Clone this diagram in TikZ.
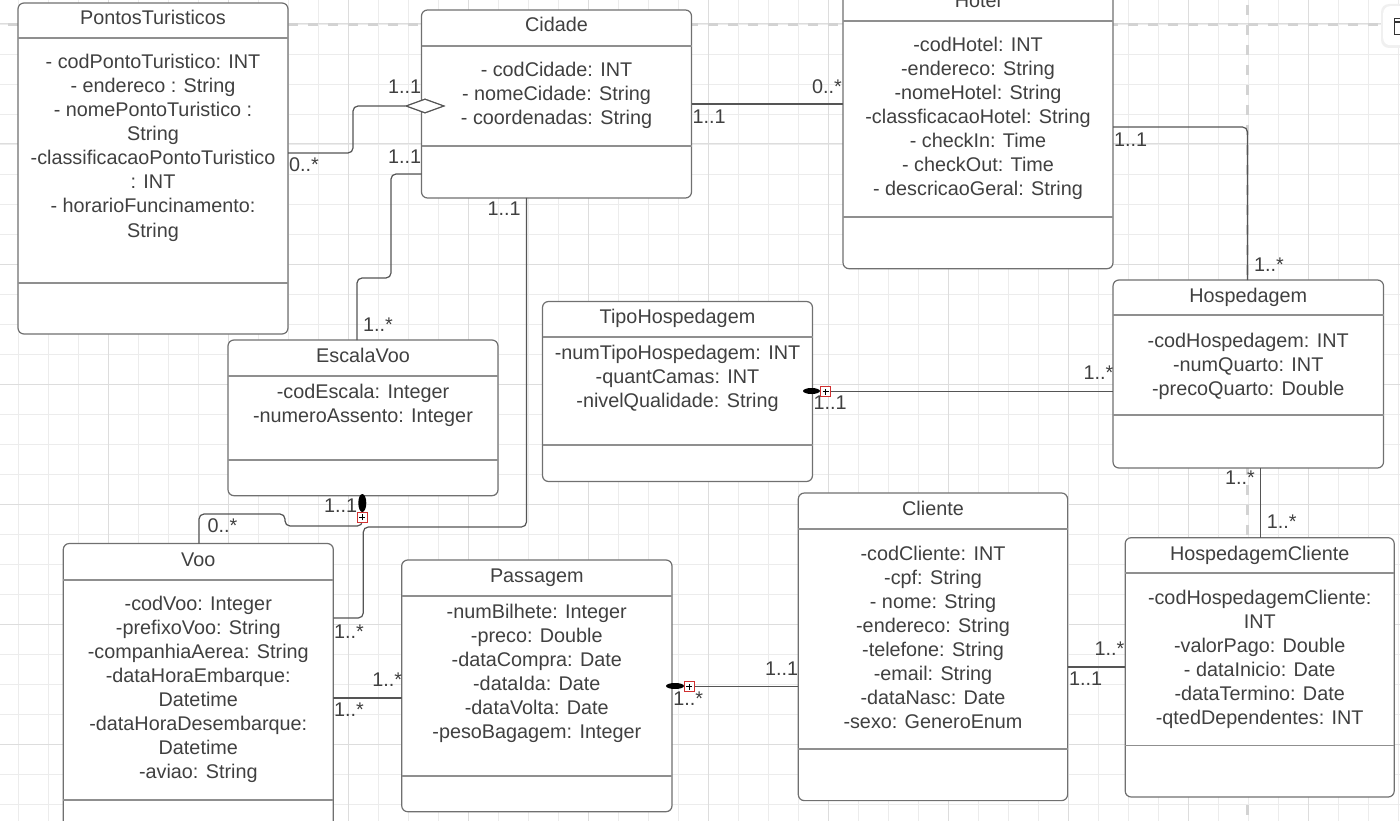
\documentclass[tikz,border=0pt]{standalone}
\usepackage{fontspec}
\setmainfont{Liberation Sans}
\usetikzlibrary{shapes.geometric}
\definecolor{boxc}{HTML}{707070}
\definecolor{sepc}{HTML}{8F8F8F}
\definecolor{txtc}{HTML}{404040}
\definecolor{connc}{HTML}{555555}
\definecolor{gridmin}{HTML}{ECECEC}
\definecolor{gridmaj}{HTML}{DDDDDD}
\definecolor{dashc}{HTML}{D3D3D3}
\definecolor{redc}{HTML}{D03030}
\tikzset{
  cls/.style={draw=boxc, fill=white, line width=1.2pt, rounded corners=6pt, inner sep=0pt, outer sep=0pt, anchor=north west},
  sepl/.style={draw=sepc, line width=1.8pt},
  txt/.style={text=txtc, font=\fontsize{19.8}{24}\selectfont, inner sep=0pt, outer sep=0pt},
  ttl/.style={txt, anchor=base},
  mult/.style={txt, anchor=base west},
  conn/.style={draw=connc, line width=1.2pt, rounded corners=5pt},
  gmin/.style={draw=gridmin, line width=0.9pt},
  gmaj/.style={draw=gridmaj, line width=1pt},
  pagedash/.style={draw=dashc, line width=3pt, dash pattern=on 10pt off 10pt},
  oval/.style={ellipse, fill=black, draw=none, inner sep=0pt},
  redbox/.style={draw=redc, line width=0.9pt, fill=white, minimum width=10pt, minimum height=10pt, inner sep=0pt},
  plusl/.style={draw=black, line width=0.7pt},
  aggr/.style={diamond, draw=connc, line width=1.1pt, fill=white, minimum width=38pt, minimum height=14pt, inner sep=0pt}
}
\newcommand\classattrs[4]{\foreach \atxt [count=\i] in {#4}{\node[txt, anchor=base] (#1-\i) at (#2,{#3+24*(\i-1)}) {\atxt};}}
\begin{document}
\begin{tikzpicture}[x=1pt,y=-1pt]
\useasboundingbox (0,0) rectangle (1400,821);
\fill[white] (0,0) rectangle (1400,821);
% grid
\foreach \x in {18,48,...,1398} \draw[gmin] (\x,0) -- (\x,821);
\foreach \y in {24,54,...,804} \draw[gmin] (0,\y) -- (1400,\y);
\foreach \x in {108,228,...,1308} \draw[gmaj] (\x,0) -- (\x,821);
\foreach \y in {24,144,...,744} \draw[gmaj] (0,\y) -- (1400,\y);
% page break lines
\draw[pagedash] (8,24.5) -- (1383,24.5);
\draw[pagedash] (1247.5,5) -- (1247.5,821);
% widget top right
\fill[black!6, rounded corners=8pt] (1381,4) rectangle (1420,48);
\node[draw=none, fill=white, rounded corners=7pt, minimum width=40pt, minimum height=39pt, inner sep=0pt, anchor=north west] (widget) at (1383,6) {};
\draw[black!80, line width=1.2pt] (1394.5,18.5) rectangle (1406,34.5);
\draw[black!80, line width=1.2pt] (1394.5,22) -- (1406,22);

% ---------- classes ----------
% PontosTuristicos
\node[cls, minimum width=270pt, minimum height=331pt] (pt) at (18,3) {};
\draw[sepl] (pt.west |- 0,38.3) -- (pt.east |- 0,38.3);
\draw[sepl] (pt.west |- 0,283) -- (pt.east |- 0,283);
\node[ttl] (ptT) at (153,25) {PontosTuristicos};
\classattrs{ptA}{153}{69}{- codPontoTuristico: INT,- endereco : String,- nomePontoTuristico :,String,-classificacaoPontoTuristico,: INT,- horarioFuncinamento:,String}

% Cidade
\node[cls, minimum width=270pt, minimum height=188pt] (cid) at (421.5,10) {};
\draw[sepl] (cid.west |- 0,45.7) -- (cid.east |- 0,45.7);
\draw[sepl] (cid.west |- 0,146) -- (cid.east |- 0,146);
\node[ttl] (cidT) at (556.5,32) {Cidade};
\classattrs{cidA}{556.5}{76.7}{- codCidade: INT,- nomeCidade: String,- coordenadas: String}

% Hotel
\node[cls, minimum width=270pt, minimum height=283pt] (hot) at (843,-14.3) {};
\draw[sepl] (hot.west |- 0,20.7) -- (hot.east |- 0,20.7);
\draw[sepl] (hot.west |- 0,217) -- (hot.east |- 0,217);
\node[ttl] (hotT) at (978,7.7) {Hotel};
\classattrs{hotA}{978}{52}{-codHotel: INT,-endereco: String,-nomeHotel: String,-classficacaoHotel: String,- checkIn: Time,- checkOut: Time,- descricaoGeral: String}

% Hospedagem
\node[cls, minimum width=270.5pt, minimum height=188pt] (hsp) at (1113,280) {};
\draw[sepl] (hsp.west |- 0,315) -- (hsp.east |- 0,315);
\draw[sepl] (hsp.west |- 0,415) -- (hsp.east |- 0,415);
\node[ttl] (hspT) at (1248.2,302.5) {Hospedagem};
\classattrs{hspA}{1248.2}{347}{-codHospedagem: INT,-numQuarto: INT,-precoQuarto: Double}

% TipoHospedagem
\node[cls, minimum width=270pt, minimum height=180pt] (tph) at (542.5,301.5) {};
\draw[sepl] (tph.west |- 0,337.3) -- (tph.east |- 0,337.3);
\draw[sepl] (tph.west |- 0,445) -- (tph.east |- 0,445);
\node[ttl] (tphT) at (677.5,323) {TipoHospedagem};
\classattrs{tphA}{677.5}{359}{-numTipoHospedagem: INT,-quantCamas: INT,-nivelQualidade: String}

% EscalaVoo
\node[cls, minimum width=270pt, minimum height=155.7pt] (esc) at (228,340) {};
\draw[sepl] (esc.west |- 0,375.7) -- (esc.east |- 0,375.7);
\draw[sepl] (esc.west |- 0,460) -- (esc.east |- 0,460);
\node[ttl] (escT) at (363,362) {EscalaVoo};
\classattrs{escA}{363}{398.3}{-codEscala: Integer,-numeroAssento: Integer}

% Voo
\node[cls, minimum width=270pt, minimum height=330pt] (voo) at (63.3,543.5) {};
\draw[sepl] (voo.west |- 0,580) -- (voo.east |- 0,580);
\draw[sepl] (voo.west |- 0,800) -- (voo.east |- 0,800);
\node[ttl] (vooT) at (198.3,566) {Voo};
\classattrs{vooA}{198.3}{610}{-codVoo: Integer,-prefixoVoo: String,-companhiaAerea: String,-dataHoraEmbarque:,Datetime,-dataHoraDesembarque:,Datetime,-aviao: String}

% Passagem
\node[cls, minimum width=270.3pt, minimum height=251.7pt] (pas) at (401.7,560) {};
\draw[sepl] (pas.west |- 0,596) -- (pas.east |- 0,596);
\draw[sepl] (pas.west |- 0,776) -- (pas.east |- 0,776);
\node[ttl] (pasT) at (536.8,582) {Passagem};
\classattrs{pasA}{536.8}{618}{-numBilhete: Integer,-preco: Double,-dataCompra: Date,-dataIda: Date,-dataVolta: Date,-pesoBagagem: Integer}

% Cliente
\node[cls, minimum width=269.3pt, minimum height=307.6pt] (cli) at (798.3,493) {};
\draw[sepl] (cli.west |- 0,529.3) -- (cli.east |- 0,529.3);
\draw[sepl] (cli.west |- 0,749) -- (cli.east |- 0,749);
\node[ttl] (cliT) at (933,515.5) {Cliente};
\classattrs{cliA}{933}{560}{-codCliente: INT,-cpf: String,- nome: String,-endereco: String,-telefone: String,-email: String,-dataNasc: Date,-sexo: GeneroEnum}

% HospedagemCliente
\node[cls, minimum width=269pt, minimum height=259.3pt] (hc) at (1125.2,537.7) {};
\draw[sepl] (hc.west |- 0,573) -- (hc.east |- 0,573);
\draw[sepl] (hc.west |- 0,745.4) -- (hc.east |- 0,745.4);
\node[ttl] (hcT) at (1259.7,560) {HospedagemCliente};
\classattrs{hcA}{1259.7}{604}{-codHospedagemCliente:,INT,-valorPago: Double,- dataInicio: Date,-dataTermino: Date,-qtedDependentes: INT}

% ---------- end markers ----------
\node[aggr] (agg) at (425,106) {};
\node[oval, minimum width=8pt, minimum height=18pt] (evo) at (362.3,503) {};
\node[redbox] (evb) at (362.4,517.3) {};
\node[oval, minimum width=17pt, minimum height=6pt] (tho) at (811.5,391) {};
\node[redbox] (thb) at (825.5,391.5) {};
\node[oval, minimum width=18pt, minimum height=6pt] (pco) at (675,686) {};
\node[redbox] (pcb) at (689,686.5) {};

% ---------- connectors ----------
\draw[conn] (pt.east |- 0,153) -- (353,153) -- (353,106) -- (agg.west);
\draw[conn] (cid.west |- 0,174) -- (391,174) -- (391,278) -- (357,278) -- (esc.north -| 357,0);
\draw[conn] (cid.east |- 0,104) -- (hot.west |- 0,104);
\draw[conn] (cid.south -| 526.5,0) -- (526.5,527) -- (363.3,527) -- (363.3,618) -- (voo.east |- 0,618);
\draw[conn] (evb.south) -- (362.4,526) -- (285,526) -- (285,514) -- (199,514) -- (voo.north -| 199,0);
\draw[conn] (thb.east) -- (hsp.west |- thb.east);
\draw[conn] (hot.east |- 0,127) -- (1247.5,127) -- (hsp.north -| 1247.5,0);
\draw[conn] (hsp.south -| 1260.5,0) -- (hc.north -| 1260.5,0);
\draw[conn] (cli.east |- 0,667) -- (hc.west |- 0,667);
\draw[conn] (pcb.east) -- (cli.west |- pcb.east);
\draw[conn] (voo.east |- 0,698) -- (pas.west |- 0,698);

% redraw markers on top
\node[aggr] (agg2) at (agg.center) {};
\node[redbox] (evb2) at (evb.center) {};
\node[redbox] (thb2) at (thb.center) {};
\node[redbox] (pcb2) at (pcb.center) {};
\foreach \b in {evb,thb,pcb}{
  \draw[plusl] ([xshift=-3pt]\b.center) -- ([xshift=3pt]\b.center)
               ([yshift=-3pt]\b.center) -- ([yshift=3pt]\b.center);
}

% ---------- multiplicities ----------
\node[mult] (m1) at (388,93.3) {1..1};
\node[mult] (m2) at (388,163.3) {1..1};
\node[mult] (m3) at (289,171.7) {0..*};
\node[mult] (m4) at (363,331.7) {1..*};
\node[mult] (m5) at (812,93.3) {0..*};
\node[mult] (m6) at (692.7,124) {1..1};
\node[mult] (m7) at (487.7,215) {1..1};
\node[mult] (m8) at (1114,146.7) {1..1};
\node[mult] (m9) at (1254,271.7) {1..*};
\node[mult] (m10) at (813.5,409.8) {1..1};
\node[mult] (m11) at (1083.5,379.6) {1..*};
\node[mult] (m12) at (324,512.5) {1..1};
\node[mult] (m13) at (207.7,532.3) {0..*};
\node[mult] (m14) at (334,638.3) {1..*};
\node[mult] (m15) at (372.3,686.7) {1..*};
\node[mult] (m16) at (334,716.7) {1..*};
\node[mult] (m17) at (673.3,705) {1..*};
\node[mult] (m18) at (765,675) {1..1};
\node[mult] (m19) at (1225,484.3) {1..*};
\node[mult] (m20) at (1266.8,528.3) {1..*};
\node[mult] (m21) at (1094.7,655.8) {1..*};
\node[mult] (m22) at (1069,685.7) {1..1};
\end{tikzpicture}
\end{document}
